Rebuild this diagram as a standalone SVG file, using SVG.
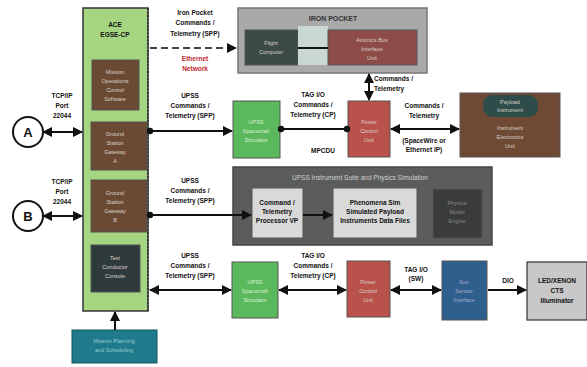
<svg xmlns="http://www.w3.org/2000/svg" width="587" height="367" viewBox="0 0 587 367">
<defs>
<marker id="ah" viewBox="0 0 10 10" refX="9" refY="5" markerWidth="5" markerHeight="5" orient="auto-start-reverse"><path d="M0,0 L10,5 L0,10 z" fill="#111"/></marker>
<marker id="dot" viewBox="0 0 10 10" refX="5" refY="5" markerWidth="4" markerHeight="4"><circle cx="5" cy="5" r="4" fill="#111"/></marker>
<style>
.t{font-family:"Liberation Sans",Arial,sans-serif;font-size:6.5px;font-weight:bold;fill:#111;text-anchor:middle}
.w{font-family:"Liberation Sans",Arial,sans-serif;font-size:5.5px;fill:#d8d0c8;text-anchor:middle}
.c{stroke:#111;stroke-width:2;fill:none}
.bx{stroke:#555;stroke-width:1}
.red{fill:#c0282d}
.lg{fill:#d9f0d9}
.st{text-anchor:start}
</style>
</defs>
<rect width="587" height="367" fill="#fff"/>

<g id="ace">
<rect x="83" y="8" width="65" height="303" fill="#a5d581" stroke="#333" stroke-width="1.5"/>
<line x1="148" y1="8" x2="148" y2="311" stroke="#222" stroke-width="1.2" stroke-dasharray="2,1.5"/>
<text class="t" x="115" y="27">ACE</text>
<text class="t" x="115" y="37">EGSE-CP</text>
<rect x="92" y="60" width="47" height="50" fill="#6b4a33" class="bx"/>
<text class="w" x="115" y="74">Mission</text><text class="w" x="115" y="83">Operations</text><text class="w" x="115" y="92">Control</text><text class="w" x="115" y="101">Software</text>
<rect x="91" y="122" width="56" height="48" fill="#6b4a33" class="bx"/>
<text class="w" x="115" y="136">Ground</text><text class="w" x="115" y="145">Station</text><text class="w" x="115" y="154">Gateway</text><text class="w" x="115" y="163">A</text>
<rect x="91" y="180" width="56" height="52" fill="#6b4a33" class="bx"/>
<text class="w" x="115" y="195">Ground</text><text class="w" x="115" y="204">Station</text><text class="w" x="115" y="213">Gateway</text><text class="w" x="115" y="222">B</text>
<rect x="91" y="245" width="49" height="47" fill="#2f3a3d" class="bx"/>
<text class="w" x="115" y="260">Test</text><text class="w" x="115" y="269">Conductor</text><text class="w" x="115" y="278">Console</text>
</g>

<g id="nodeA"><circle cx="28" cy="132" r="15" fill="#fff" stroke="#111" stroke-width="2"/><text x="28" y="137" font-family="Liberation Sans,Arial,sans-serif" font-size="13" font-weight="bold" text-anchor="middle" fill="#111">A</text></g>
<g id="nodeB"><circle cx="28" cy="216" r="15" fill="#fff" stroke="#111" stroke-width="2"/><text x="28" y="221" font-family="Liberation Sans,Arial,sans-serif" font-size="13" font-weight="bold" text-anchor="middle" fill="#111">B</text></g>

<g id="ironpocket">
<rect x="238" y="8" width="189" height="65" fill="#a9a9a9" stroke="#777" stroke-width="1.5"/>
<text class="t" x="333" y="21" style="fill:#333;font-size:7px">IRON POCKET</text>
<rect x="245" y="30" width="53" height="35" fill="#3c4a47" class="bx"/>
<text class="w" x="271" y="45">Flight</text><text class="w" x="271" y="54">Computer</text>
<rect x="298" y="26" width="30" height="39" fill="#c9d8d2"/>
<rect x="328" y="30" width="89" height="35" fill="#8d4c47" class="bx"/>
<text class="w" x="372" y="42">Avionics Bus</text><text class="w" x="372" y="51">Interface</text><text class="w" x="372" y="60">Unit</text>
<line x1="298" y1="48" x2="328" y2="48" stroke="#111" stroke-width="2"/>
</g>

<g id="green1"><rect x="233" y="101" width="47" height="57" fill="#5cb85c" class="bx"/><text class="w lg" x="256" y="124">UPSS</text><text class="w lg" x="256" y="133">Spacecraft</text><text class="w lg" x="256" y="142">Simulator</text></g>
<g id="mpcdu"><rect x="348" y="101" width="42" height="56" fill="#b9524b" class="bx"/><text class="w" x="369" y="124">Power</text><text class="w" x="369" y="133">Control</text><text class="w" x="369" y="142">Unit</text></g>
<g id="payload">
<rect x="460" y="93" width="100" height="64" fill="#6e4a34" class="bx"/>
<rect x="483" y="95" width="55" height="22" rx="9" fill="#2e4d4a"/>
<text class="w" x="510" y="104">Payload</text><text class="w" x="510" y="112">Instrument</text>
<text class="w" x="510" y="130">Instrument</text><text class="w" x="510" y="139">Electronics</text><text class="w" x="510" y="148">Unit</text>
</g>

<g id="sim">
<rect x="233" y="167" width="259" height="78" fill="#5b5d5c" stroke="#444" stroke-width="1.5"/>
<text class="t" x="360" y="180" style="fill:#d0d0d0;font-weight:normal">UPSS Instrument Suite and Physics Simulation</text>
<rect x="252" y="188" width="51" height="50" fill="#d9d9d9" class="bx"/>
<text class="t" x="277" y="205">Command /</text><text class="t" x="277" y="214">Telemetry</text><text class="t" x="277" y="223">Processor VP</text>
<rect x="333" y="188" width="84" height="50" fill="#d9d9d9" class="bx"/>
<text class="t" x="375" y="205">Phenomena Sim</text><text class="t" x="375" y="214">Simulated Payload</text><text class="t" x="375" y="223">Instruments Data Files</text>
<rect x="433" y="189" width="49" height="49" fill="#3a3c3b" class="bx"/>
<text class="w" x="457" y="205" style="fill:#888">Physics</text><text class="w" x="457" y="214" style="fill:#888">Model</text><text class="w" x="457" y="223" style="fill:#888">Engine</text>
</g>

<g id="green2"><rect x="232" y="262" width="46" height="56" fill="#5cb85c" class="bx"/><text class="w lg" x="255" y="284">UPSS</text><text class="w lg" x="255" y="293">Spacecraft</text><text class="w lg" x="255" y="302">Simulator</text></g>
<g id="red2"><rect x="347" y="261" width="43" height="56" fill="#b9524b" class="bx"/><text class="w" x="368" y="284">Power</text><text class="w" x="368" y="293">Control</text><text class="w" x="368" y="302">Unit</text></g>
<g id="blue"><rect x="442" y="261" width="45" height="59" fill="#2f5f8c" class="bx"/><text class="w" x="464" y="284" style="fill:#aac">Sun</text><text class="w" x="464" y="293" style="fill:#aac">Sensor</text><text class="w" x="464" y="302" style="fill:#aac">Interface</text></g>
<g id="illum"><rect x="527" y="262" width="60" height="58" fill="#c8c8c8" stroke="#333" stroke-width="1.2"/><text class="t" x="557" y="283">LED/XENON</text><text class="t" x="557" y="293">CTS</text><text class="t" x="557" y="303">Illuminator</text></g>
<g id="teal"><rect x="72" y="330" width="85" height="33" fill="#1f7a8c" stroke="#14525e" stroke-width="1"/><text class="w" x="114" y="343" style="fill:#9cc">Mission Planning</text><text class="w" x="114" y="352" style="fill:#9cc">and Scheduling</text></g>

<g id="connectors">
<line x1="43" y1="132" x2="82" y2="132" class="c" marker-start="url(#ah)" marker-end="url(#ah)"/>
<line x1="43" y1="216" x2="82" y2="216" class="c" marker-start="url(#ah)" marker-end="url(#ah)"/>
<line x1="150" y1="48" x2="236" y2="48" stroke="#444" stroke-width="2" stroke-dasharray="7,4" marker-end="url(#ah)"/>
<line x1="150" y1="131" x2="232" y2="131" class="c" marker-start="url(#dot)" marker-end="url(#ah)"/>
<line x1="281" y1="129" x2="347" y2="129" class="c" marker-start="url(#dot)" marker-end="url(#dot)"/>
<line x1="369" y1="74" x2="369" y2="100" class="c" marker-start="url(#ah)" marker-end="url(#ah)"/>
<line x1="391" y1="129" x2="459" y2="129" class="c" marker-start="url(#ah)" marker-end="url(#ah)"/>
<line x1="150" y1="215" x2="251" y2="215" class="c" marker-start="url(#dot)" marker-end="url(#ah)"/>
<line x1="303" y1="215" x2="332" y2="215" class="c" marker-end="url(#ah)"/>
<line x1="150" y1="290" x2="231" y2="290" class="c" marker-start="url(#ah)" marker-end="url(#ah)"/>
<line x1="279" y1="290" x2="346" y2="290" class="c" marker-start="url(#ah)" marker-end="url(#ah)"/>
<line x1="391" y1="290" x2="441" y2="290" class="c" marker-start="url(#ah)" marker-end="url(#ah)"/>
<line x1="488" y1="290" x2="526" y2="290" class="c" marker-end="url(#ah)"/>
<line x1="115" y1="330" x2="115" y2="312" class="c" marker-end="url(#ah)"/>
</g>

<g id="labels">
<text class="t" x="195" y="15">Iron Pocket</text><text class="t" x="195" y="25">Commands /</text><text class="t" x="195" y="36">Telemetry (SPP)</text>
<text class="t red" x="195" y="61">Ethernet</text><text class="t red" x="195" y="71">Network</text>
<text class="t" x="62" y="98">TCP/IP</text><text class="t" x="62" y="108">Port</text><text class="t" x="62" y="118">22044</text>
<text class="t" x="62" y="184">TCP/IP</text><text class="t" x="62" y="194">Port</text><text class="t" x="62" y="204">22044</text>
<text class="t" x="190" y="98">UPSS</text><text class="t" x="190" y="108">Commands /</text><text class="t" x="190" y="118">Telemetry (SPP)</text>
<text class="t" x="190" y="183">UPSS</text><text class="t" x="190" y="193">Commands /</text><text class="t" x="190" y="203">Telemetry (SPP)</text>
<text class="t" x="190" y="258">UPSS</text><text class="t" x="190" y="268">Commands /</text><text class="t" x="190" y="278">Telemetry (SPP)</text>
<text class="t" x="313" y="97">TAG I/O</text><text class="t" x="313" y="107">Commands /</text><text class="t" x="313" y="117">Telemetry (CP)</text>
<text class="t" x="313" y="258">TAG I/O</text><text class="t" x="313" y="268">Commands /</text><text class="t" x="313" y="278">Telemetry (CP)</text>
<text class="t st" x="374" y="81">Commands /</text><text class="t st" x="374" y="91">Telemetry</text>
<text class="t" x="323" y="153">MPCDU</text>
<text class="t" x="424" y="108">Commands /</text><text class="t" x="424" y="118">Telemetry</text>
<text class="t" x="424" y="143">(SpaceWire or</text><text class="t" x="424" y="152">Ethernet IP)</text>
<text class="t" x="416" y="272">TAG I/O</text><text class="t" x="416" y="281">(SW)</text>
<text class="t" x="508" y="283">DIO</text>
</g>
</svg>
